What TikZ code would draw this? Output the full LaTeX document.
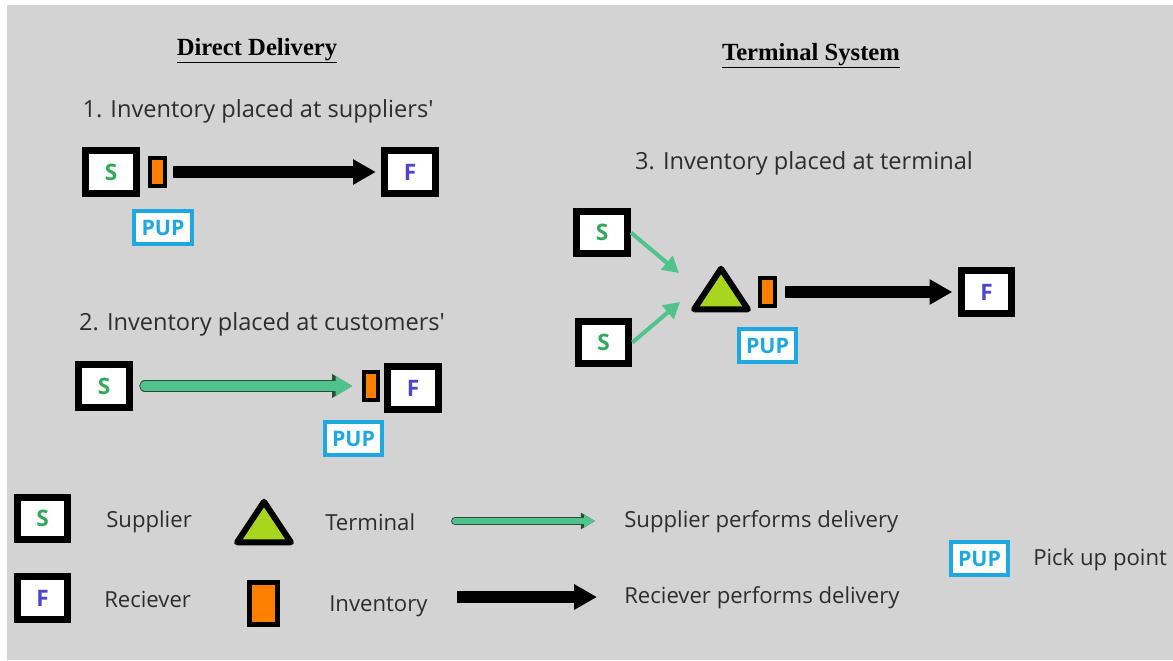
\documentclass[tikz,border=0pt]{standalone}
\usepackage{fontspec}
\setmainfont{Open Sans}
\newfontfamily\headfont{Liberation Serif}
\usetikzlibrary{arrows.meta}

\definecolor{bggray}{RGB}{211,211,211}
\definecolor{supgreen}{RGB}{80,194,140}
\definecolor{supedge}{RGB}{40,80,55}
\definecolor{sgreen}{RGB}{50,168,90}
\definecolor{fblue}{RGB}{75,70,205}
\definecolor{invorange}{RGB}{255,128,0}
\definecolor{pupblue}{RGB}{30,168,225}
\definecolor{termlime}{RGB}{168,214,30}
\definecolor{txtgray}{RGB}{45,45,45}

\tikzset{
  site/.style={draw=black, line width=5.25pt, fill=white, minimum width=38pt,
    minimum height=32pt, inner sep=0pt, font=\fontsize{17}{17}\selectfont\bfseries},
  supplier/.style={site, text=sgreen},
  receiver/.style={site, text=fblue},
  stock/.style={draw=black, line width=3pt, fill=invorange, minimum width=11pt,
    minimum height=21pt, inner sep=0pt},
  pickup/.style={draw=pupblue, line width=3pt, fill=white, text=pupblue,
    minimum width=43pt, minimum height=25pt, inner sep=0pt,
    font=\fontsize{16}{16}\selectfont\bfseries},
  termslot/.style={minimum width=40pt, minimum height=30pt, inner sep=0pt},
  termtri/.style={draw=black, fill=termlime, line width=4.5pt, line join=round},
  caption/.style={text=txtgray, inner sep=0pt, font=\fontsize{16.6}{19}\selectfont},
  bigcaption/.style={caption, font=\fontsize{17.7}{20}\selectfont},
  heading/.style={inner sep=0pt, font=\headfont\fontsize{18.5}{21}\selectfont\bfseries},
  deliver/.style={line width=#1, -{Triangle[width=0pt 2,length=0pt 1.9]}},
  deliver/.default=9pt,
  supply/.style={line width=#1, draw=supgreen, line cap=round,
    -{Triangle[width=0pt 2,length=0pt 1.8]},
    preaction={draw=supedge, line width=#1+1.4pt, line cap=round,
      -{Triangle[width=0pt 2,length=0pt 1.8]}}},
  supply/.default=7pt,
  feed/.style={line width=3pt, draw=supgreen, -{Triangle[width=13pt,length=12pt]}}
}

\begin{document}
\begin{tikzpicture}[x=0.75pt,y=-0.75pt]
  % page and grey panel
  \useasboundingbox (0,0) rectangle (1173,660);
  \fill[white] (0,0) rectangle (1173,660);
  \fill[bggray] (7,5) rectangle (1173,660);

  % headings
  \node[heading] (hdirect) at (257,51) {\underline{Direct Delivery}};
  \node[heading] (hterm) at (811,56) {\underline{Terminal System}};

  % 1. stock kept at the supplier
  \node[bigcaption] (cap1) at (258,111) {1. Inventory placed at suppliers\textquotesingle};
  \node[supplier] (s1) at (111,172) {S};
  \node[stock] (inv1) at (157.5,172) {};
  \node[receiver] (f1) at (410,172) {F};
  \node[pickup] (pup1) at (163,227.5) {PUP};
  \draw[deliver, shorten <=4.5pt, shorten >=4pt] (inv1) -- (f1);

  % 2. stock kept at the customer
  \node[bigcaption] (cap2) at (262,324) {2. Inventory placed at customers\textquotesingle};
  \node[supplier] (s2) at (104,386) {S};
  \node[stock] (inv2) at (371,386) {};
  \node[receiver] (f2) at (413,388) {F};
  \node[pickup] (pup2) at (353.5,438.5) {PUP};
  \draw[supply, shorten <=9pt, shorten >=7pt] (s2) -- (inv2);

  % 3. stock kept at the terminal
  \node[bigcaption] (cap3) at (804,163) {3. Inventory placed at terminal};
  \node[supplier] (s3a) at (602,232.5) {S};
  \node[supplier] (s3b) at (603.5,342.5) {S};
  \node[termslot] (term) at (721,289) {};
  \draw[termtri] (term.south west) -- (term.south east) -- (term.north) -- cycle;
  \node[stock] (inv3) at (767.5,292) {};
  \node[receiver] (f3) at (986.5,292) {F};
  \node[pickup] (pup3) at (767.5,345.5) {PUP};
  \coordinate (toa) at (679,273);
  \coordinate (tob) at (680,302);
  \draw[feed] (s3a.east) -- (toa);
  \draw[feed] (s3b.east) -- (tob);
  \draw[deliver, shorten <=6pt, shorten >=4pt] (inv3) -- (f3);

  % legend
  \node[supplier] (ls) at (42.5,518.5) {S};
  \node[caption, anchor=west] (lsup) at (106,522) {Supplier};
  \node[termslot] (lterm) at (264,522) {};
  \draw[termtri] (lterm.south west) -- (lterm.south east) -- (lterm.north) -- cycle;
  \node[caption, anchor=west] (ltermt) at (325,522) {Terminal};
  \coordinate (lga) at (455,521);
  \coordinate (lgb) at (595,521);
  \draw[supply=4.5pt] (lga) -- (lgb);
  \node[caption, anchor=west] (lsupd) at (624,522) {Supplier performs delivery};

  \node[receiver] (lf) at (42.5,598) {F};
  \node[caption, anchor=west] (lrec) at (104,599) {Reciever};
  \node[stock, line width=3.75pt, minimum width=21pt, minimum height=31pt] (linv) at (263.5,603.5) {};
  \node[caption, anchor=west] (linvt) at (329,606) {Inventory};
  \coordinate (lba) at (457,597);
  \coordinate (lbb) at (597,597);
  \draw[deliver] (lba) -- (lbb);
  \node[caption, anchor=west] (lrecd) at (624,598) {Reciever performs delivery};

  \node[pickup] (lpup) at (979.5,558.5) {PUP};
  \node[caption, anchor=west] (lpupt) at (1033,560) {Pick up point};
\end{tikzpicture}
\end{document}
